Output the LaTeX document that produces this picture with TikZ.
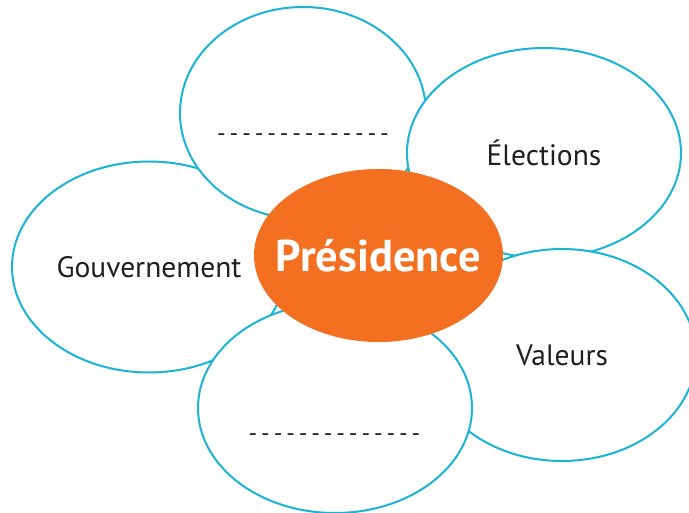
\documentclass[tikz,border=0pt]{standalone}
\usepackage{fontspec}
\setmainfont{PT Sans}
\usetikzlibrary{shapes.geometric}
\definecolor{petal}{HTML}{1AB4D6}
\definecolor{core}{HTML}{F37021}
\definecolor{ink}{HTML}{231F20}
\newcommand\blankline{\foreach \i in {1,...,14}{-\kern3.9pt}\unskip\kern-3.9pt}
\newcommand\zerowide[1]{\makebox[0pt]{#1}}
\begin{document}
\begin{tikzpicture}[x=1pt,y=-1pt,
  petalbox/.style={ellipse,draw=petal,line width=2pt,fill=white,inner sep=0pt,
    text=ink,font=\fontsize{29.5}{32}\selectfont},
  corebox/.style={ellipse,fill=core,inner sep=0pt,text=white,
    font=\fontsize{44.5}{48}\selectfont\bfseries},
  blanktext/.style={text=ink,inner sep=0pt,font=\fontsize{24}{28}\selectfont}]
\useasboundingbox (0,0) rectangle (689,513);
\node[petalbox,minimum width=274pt,minimum height=211pt] (gouv) at (149,267) {\zerowide{Gouvernement}};
\node[petalbox,minimum width=246pt,minimum height=212pt] (top) at (303,113) {};
\node[petalbox,minimum width=274pt,minimum height=210pt] (elec) at (544,153) {\zerowide{Élections}};
\node[petalbox,minimum width=268pt,minimum height=212pt] (val) at (562,355) {\zerowide{Valeurs}};
\node[petalbox,minimum width=274pt,minimum height=210pt] (bot) at (335,408) {};
\node[corebox,minimum width=249pt,minimum height=173pt] (pres) at (378.5,255.5) {\zerowide{Présidence}};
\node[blanktext] (topblank) at (303,138) {\blankline};
\node[blanktext] (botblank) at (334.5,438) {\blankline};
\end{tikzpicture}
\end{document}
